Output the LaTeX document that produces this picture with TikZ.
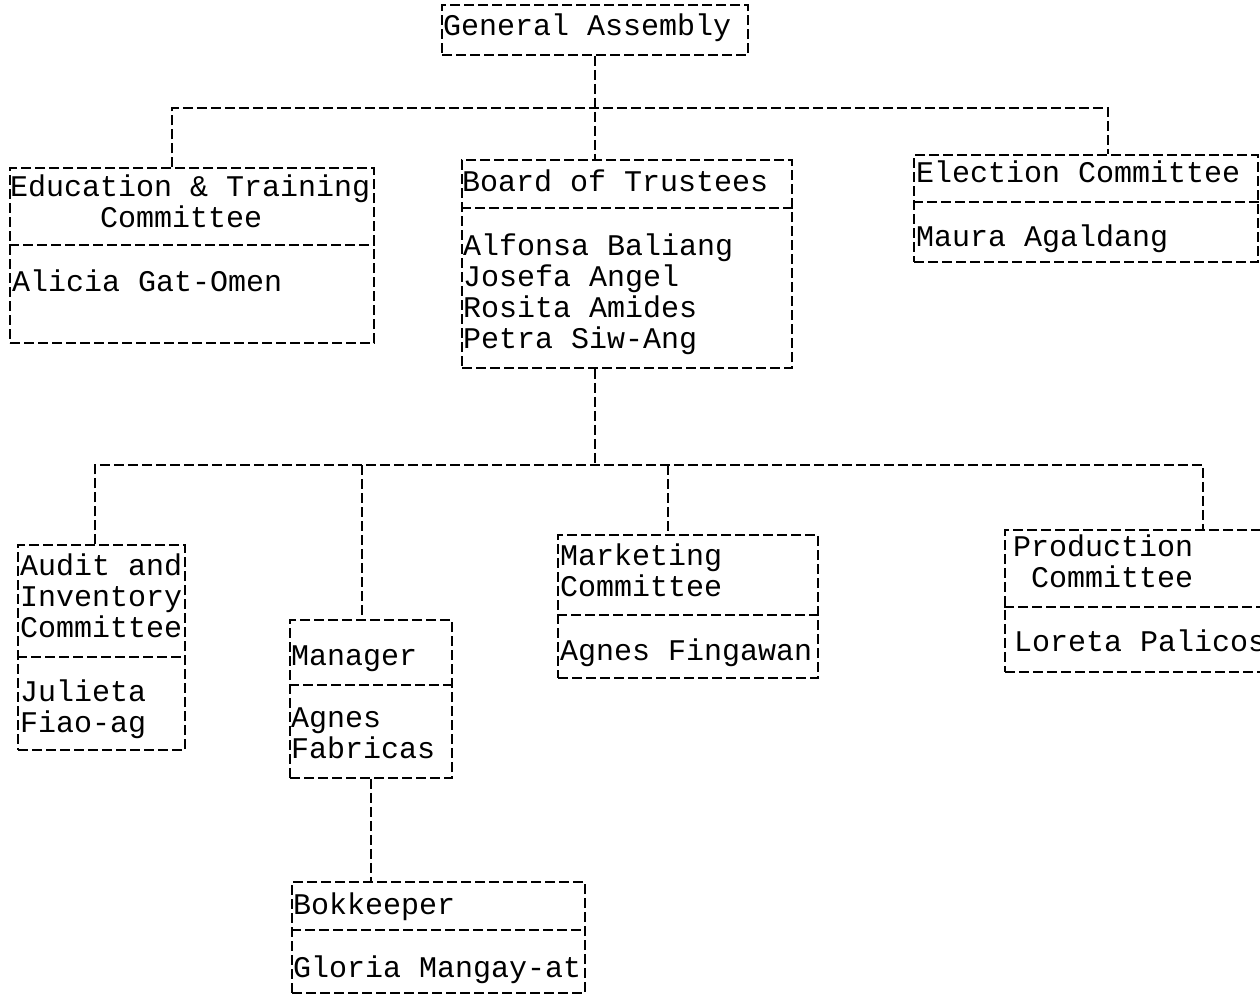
\documentclass[tikz,border=0pt]{standalone}
\usepackage{fontspec}
\newfontfamily\dotfont{Liberation Mono}
\usetikzlibrary{positioning}
\begin{document}
\begin{tikzpicture}[x=1pt, y=-1pt, font=\dotfont\fontsize{30}{31}\selectfont]
%% the picture is laid out in pixel units of the scan (y grows downwards)
%% multi-line texts are placed by the baseline of their last line
\tikzstyle{box}=[draw, line width=1.5pt, dash pattern=on 10pt off 4pt, inner sep=0pt]
\tikzstyle{link}=[line width=1.5pt, dash pattern=on 10pt off 4pt]
\tikzstyle{txt}=[anchor=base west, inner sep=0pt, align=left]
\useasboundingbox (0,0) rectangle (1260,997);
%% boxes %%
\node[box, minimum width=306pt, minimum height=50pt] at (595,30) (GenAssembly) {};
\node[box, minimum width=364pt, minimum height=175pt] at (192,255.5) (EduCom) {};
\node[box, minimum width=330pt, minimum height=208pt] at (627,264) (Board) {};
\node[box, minimum width=344pt, minimum height=107pt] at (1086,208.5) (ElecCom) {};
\node[box, minimum width=167pt, minimum height=205pt] at (101.5,647.5) (AuditCom) {};
\node[box, minimum width=162pt, minimum height=158pt] at (371,699) (Manager) {};
\node[box, minimum width=260pt, minimum height=143pt] at (688,606.5) (MarkCom) {};
\node[box, minimum width=295pt, minimum height=142pt] at (1152.5,601) (ProdCom) {};
\node[box, minimum width=293pt, minimum height=111pt] at (438.5,937.5) (Bookkeeper) {};
%% dividers between title and names
\draw[link] (EduCom.west |- 0,245) -- (EduCom.east |- 0,245);
\draw[link] (Board.west |- 0,208) -- (Board.east |- 0,208);
\draw[link] (ElecCom.west |- 0,202) -- (ElecCom.east |- 0,202);
\draw[link] (AuditCom.west |- 0,657) -- (AuditCom.east |- 0,657);
\draw[link] (Manager.west |- 0,685) -- (Manager.east |- 0,685);
\draw[link] (MarkCom.west |- 0,615) -- (MarkCom.east |- 0,615);
\draw[link] (ProdCom.west |- 0,607) -- (ProdCom.east |- 0,607);
\draw[link] (Bookkeeper.west |- 0,930) -- (Bookkeeper.east |- 0,930);
%% texts %%
\node[txt] at (443,35) (GenAssemblyT) {General Assembly};
\node[txt] at (10,227) (EduComT) {Education \& Training\\\ \ \ \ \ Committee};
\node[txt] at (12,291) (EduComN) {Alicia Gat-Omen};
\node[txt] at (462,191) (BoardT) {Board of Trustees};
\node[txt] at (463,348) (BoardN) {Alfonsa Baliang\\Josefa Angel\\Rosita Amides\\Petra Siw-Ang};
\node[txt] at (916,182) (ElecComT) {Election Committee};
\node[txt] at (916,246) (ElecComN) {Maura Agaldang};
\node[txt] at (20,637) (AuditComT) {Audit and\\Inventory\\Committee};
\node[txt] at (20,732) (AuditComN) {Julieta\\Fiao-ag};
\node[txt] at (291,665) (ManagerT) {Manager};
\node[txt] at (291,758) (ManagerN) {Agnes\\Fabricas};
\node[txt] at (560,596) (MarkComT) {Marketing\\Committee};
\node[txt] at (560,660) (MarkComN) {Agnes Fingawan};
\node[txt] at (1013,587) (ProdComT) {Production\\\ Committee};
\node[txt] at (1014,651) (ProdComN) {Loreta Palicos};
\node[txt] at (293,914) (BookkeeperT) {Bokkeeper};
\node[txt] at (293,977) (BookkeeperN) {Gloria Mangay-at};
%% connectors %%
\coordinate (EduDrop) at (172,108);
\coordinate (ElecDrop) at (1108,108);
\coordinate (AuditDrop) at (95,465);
\coordinate (ManagerDrop) at (362,465);
\coordinate (MarkDrop) at (668,465);
\coordinate (ProdDrop) at (1203,465);
\draw[link] (GenAssembly.south) -- (GenAssembly.south |- Board.north);
\draw[link] (EduCom.north -| EduDrop) -- (EduDrop) -- (ElecDrop) -- (ElecCom.north -| ElecDrop);
\draw[link] (Board.south -| GenAssembly.south) -- (GenAssembly.south |- AuditDrop);
\draw[link] (AuditCom.north -| AuditDrop) -- (AuditDrop) -- (ProdDrop) -- (ProdCom.north -| ProdDrop);
\draw[link] (ManagerDrop) -- (Manager.north -| ManagerDrop);
\draw[link] (MarkDrop) -- (MarkCom.north -| MarkDrop);
\draw[link] (Manager.south) -- (Bookkeeper.north -| Manager.south);
\end{tikzpicture}
\end{document}
